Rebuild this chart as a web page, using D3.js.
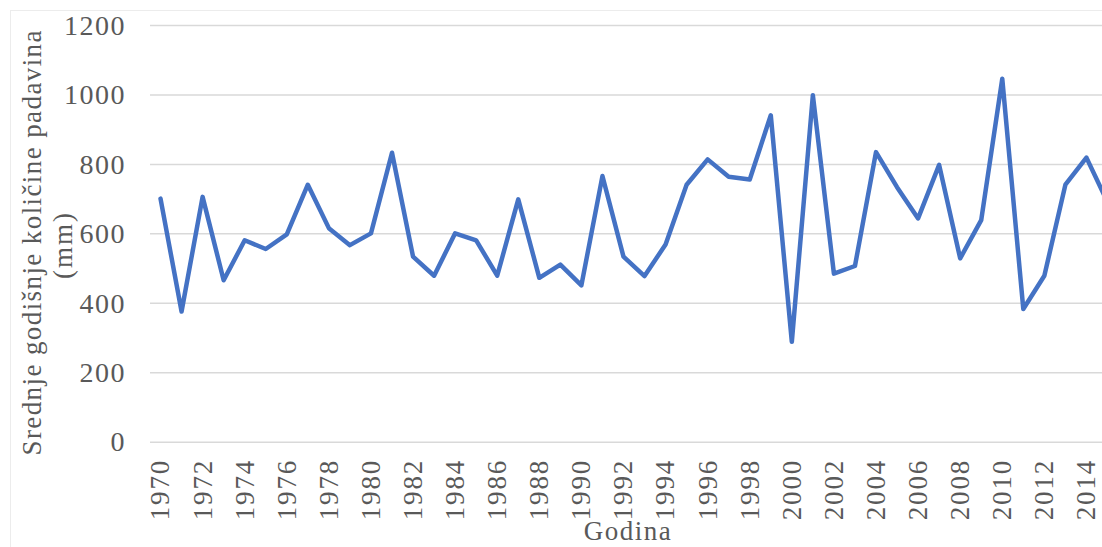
<!DOCTYPE html>
<html>
<head>
<meta charset="utf-8">
<script src="https://cdn.jsdelivr.net/npm/d3@7"></script>
<style>
  html, body { margin: 0; padding: 0; background: #fff; overflow: hidden; }
  svg { display: block; }
  text { font-family: "Liberation Serif", "Times New Roman", serif; fill: #595959; }
</style>
</head>
<body>
<svg id="chart"></svg>
<script>
// Annual mean precipitation (mm), 1970-2015
const years = d3.range(1970, 2016);
const precipitation = [
    700, 375, 705, 465, 580, 555, 597, 740, 615, 566,
    600, 832, 533, 478, 600, 580, 478, 698, 472, 510,
    450, 765, 533, 477, 568, 740, 813, 763, 755, 940,
    288, 998, 484, 506, 834, 733, 643, 797, 528, 638,
    1045, 382, 478, 740, 818, 690
];
const yTicks = [0, 200, 400, 600, 800, 1000, 1200];
const xTickYears = years.filter(y => y % 2 === 0);

const yTitle = "Srednje godišnje količine padavina";
const yTitle2 = "(mm)";
const xTitle = "Godina";

const width = 1102, height = 547;
const svg = d3.select("#chart").attr("width", width).attr("height", height);

// faint chart frame
svg.append("rect")
    .attr("x", 10.5).attr("y", 10.5)
    .attr("width", width + 20).attr("height", height + 20)
    .attr("fill", "none").attr("stroke", "#ececec");

const x = d3.scaleBand().domain(years).range([150, 1118]);
const y = d3.scaleLinear().domain([0, 1200]).range([441.7, 25]);

// gridlines
svg.append("g")
    .attr("transform", "translate(150,0)")
    .call(d3.axisLeft(y).tickValues(yTicks).tickSize(-(1118 - 150)).tickFormat(""))
    .call(g => g.select(".domain").remove())
    .call(g => g.selectAll(".tick line").attr("stroke", "#d9d9d9").attr("stroke-width", 1.5));

// y tick labels
svg.append("g")
    .attr("transform", "translate(126,0)")
    .call(d3.axisLeft(y).tickValues(yTicks).tickSize(0).tickPadding(0).tickFormat(d3.format("d")))
    .call(g => g.select(".domain").remove())
    .call(g => g.selectAll("text")
        .attr("font-family", "Liberation Serif, serif")
        .attr("font-size", 28)
        .attr("letter-spacing", 1.5)
        .attr("fill", "#595959")
        .attr("dy", "0.33em"));

// x tick labels (rotated)
const xAxis = svg.append("g")
    .attr("transform", "translate(0,459)")
    .call(d3.axisBottom(x).tickValues(xTickYears).tickSize(0).tickPadding(0))
    .call(g => g.select(".domain").remove());
xAxis.selectAll("text")
    .attr("font-family", "Liberation Serif, serif")
    .attr("font-size", 27)
    .attr("letter-spacing", 1.8)
    .attr("fill", "#595959")
    .attr("text-anchor", "end")
    .attr("transform", "rotate(-90)")
    .attr("x", 0)
    .attr("y", 0)
    .attr("dx", 0)
    .attr("dy", "0.33em");

// data line
const line = d3.line()
    .x((d, i) => x(years[i]) + x.bandwidth() / 2)
    .y(d => y(d));

svg.append("path")
    .datum(precipitation)
    .attr("d", line)
    .attr("fill", "none")
    .attr("stroke", "#4472C4")
    .attr("stroke-width", 4.5)
    .attr("stroke-linejoin", "round")
    .attr("stroke-linecap", "round");

// axis titles
svg.append("text")
    .attr("transform", "translate(41,243) rotate(-90)")
    .attr("text-anchor", "middle")
    .attr("font-size", 27)
    .attr("textLength", 425)
    .attr("lengthAdjust", "spacing")
    .text(yTitle);
svg.append("text")
    .attr("transform", "translate(72,245) rotate(-90)")
    .attr("text-anchor", "middle")
    .attr("font-size", 27)
    .attr("letter-spacing", 2)
    .text(yTitle2);

svg.append("text")
    .attr("x", 628).attr("y", 540)
    .attr("text-anchor", "middle")
    .attr("font-size", 27)
    .attr("letter-spacing", 1.5)
    .text(xTitle);
</script>
</body>
</html>
